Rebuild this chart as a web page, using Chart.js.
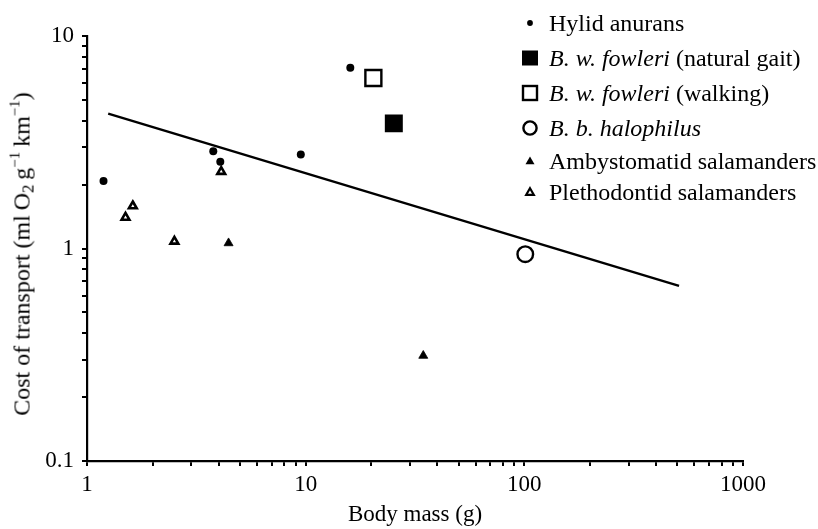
<!DOCTYPE html>
<html>
<head>
<meta charset="utf-8">
<script src="https://cdn.jsdelivr.net/npm/chart.js@4.4.1/dist/chart.umd.min.js"></script>
<style>
  html, body { margin: 0; padding: 0; background: #fff; }
  #wrap { position: relative; width: 818px; height: 529px; overflow: hidden; }
  #c { position: absolute; left: 0; top: 0; }
  .serif { font-family: "Liberation Serif", "Times New Roman", serif; color: #000; }
  #ytitle { position: absolute; left: 22px; top: 254px; font-size: 24px; white-space: nowrap;
            transform: translate(-50%, -50%) rotate(-90deg); }
  #ytitle sub { font-size: 17px; vertical-align: -4px; line-height: 0; }
  #ytitle sup { font-size: 15px; vertical-align: 10px; line-height: 0; }
  .lrow { position: absolute; left: 0; height: 0; }
  .lrow svg { position: absolute; left: 518px; top: -12px; }
  .lrow span { position: absolute; left: 549px; top: 0; transform: translateY(-52%); font-size: 24px; white-space: nowrap; line-height: 1; }
</style>
</head>
<body>
<div id="wrap">
  <canvas id="c" width="818" height="529"></canvas>
  <div id="ytitle" class="serif">Cost of transport (ml&#8201;O<sub>2</sub>&#8201;g<sup>&minus;1</sup>&#8201;km<sup>&minus;1</sup>)</div>
  <div id="legend" class="serif"></div>
</div>
<script>
// ---- data ----
const hylidMass = [1.19, 3.78, 4.07, 9.5, 16.0];
const hylidCost = [2.08, 2.87, 2.56, 2.77, 7.09];

const fowleriNaturalMass = [25.3];
const fowleriNaturalCost = [3.88];

const fowleriWalkingMass = [20.4];
const fowleriWalkingCost = [6.34];

const halophilusMass = [101];
const halophilusCost = [0.94];

const ambystomatidMass = [4.44, 34.5];
const ambystomatidCost = [1.06, 0.313];

const plethodontidMass = [1.50, 1.62, 2.51, 4.11];
const plethodontidCost = [1.40, 1.585, 1.08, 2.30];

const fitMass = [1.25, 510];
const fitCost = [4.31, 0.667];

const xTickValues = [1,2,3,4,5,6,7,8,9,10,20,30,40,50,60,70,80,90,100,200,300,400,500,600,700,800,900,1000];
const xTickLabels = ['1', '10', '100', '1000'];
const yTickValues = [0.1,0.2,0.3,0.4,0.5,0.6,0.7,0.8,0.9,1,2,3,4,5,6,7,8,9,10];
const yTickLabels = ['0.1', '1', '10'];

const legendLabels = [
  'Hylid anurans',
  '<i>B. w. fowleri</i> (natural gait)',
  '<i>B. w. fowleri</i> (walking)',
  '<i>B. b. halophilus</i>',
  'Ambystomatid salamanders',
  'Plethodontid salamanders'
];

// ---- build ----
const pts = (xs, ys) => xs.map((x, i) => ({ x: x, y: ys[i] }));
const FONT = { family: '"Liberation Serif", "Times New Roman", serif', size: 23 };

const datasets = [
  { label: legendLabels[0], data: pts(hylidMass, hylidCost), pointStyle: 'circle', pointRadius: 4,
    backgroundColor: '#000', borderColor: '#000', borderWidth: 0 },
  { label: legendLabels[1], data: pts(fowleriNaturalMass, fowleriNaturalCost), pointStyle: 'rect', pointRadius: 11.3,
    backgroundColor: '#000', borderColor: '#000', borderWidth: 2 },
  { label: legendLabels[2], data: pts(fowleriWalkingMass, fowleriWalkingCost), pointStyle: 'rect', pointRadius: 11.3,
    backgroundColor: '#fff', borderColor: '#000', borderWidth: 2.4 },
  { label: legendLabels[3], data: pts(halophilusMass, halophilusCost), pointStyle: 'circle', pointRadius: 7.8,
    backgroundColor: '#fff', borderColor: '#000', borderWidth: 2.4 },
  { label: legendLabels[4], data: pts(ambystomatidMass, ambystomatidCost), pointStyle: 'triangle', pointRadius: 5.2,
    backgroundColor: '#000', borderColor: '#000', borderWidth: 0.8 },
  { label: legendLabels[5], data: pts(plethodontidMass, plethodontidCost), pointStyle: 'triangle', pointRadius: 4.5,
    backgroundColor: '#fff', borderColor: '#000', borderWidth: 2.6 },
  { label: 'fit', data: pts(fitMass, fitCost), showLine: true, pointRadius: 0,
    borderColor: '#000', borderWidth: 2.4, fill: false }
];
// draw the fit line beneath the markers
datasets.forEach((d, i) => { d.order = (d.label === 'fit') ? 10 : i; });

const axisCommon = {
  type: 'logarithmic',
  grid: { drawOnChartArea: false, drawTicks: true, tickLength: 5, color: '#000', lineWidth: 2 },
  border: { display: true, color: '#000', width: 2.2 },
};

new Chart(document.getElementById('c'), {
  type: 'scatter',
  data: { datasets: datasets },
  options: {
    responsive: false,
    animation: false,
    layout: { padding: { left: 0, right: 75, top: 36, bottom: 0 } },
    plugins: { legend: { display: false }, tooltip: { enabled: false } },
    scales: {
      x: Object.assign({}, axisCommon, {
        position: 'bottom', min: 1, max: 1000,
        afterBuildTicks: s => { s.ticks = xTickValues.map(v => ({ value: v })); },
        afterFit: s => { s.height = 68; },
        ticks: { autoSkip: false, maxRotation: 0, padding: 5, color: '#000', font: FONT,
          callback: v => { const t = String(v); return xTickLabels.includes(t) ? t : ''; } },
        title: { display: true, text: 'Body mass (g)', color: '#000', font: FONT, padding: { top: 0, bottom: 0 } }
      }),
      y: Object.assign({}, axisCommon, {
        position: 'left', min: 0.1, max: 10,
        afterBuildTicks: s => { s.ticks = yTickValues.map(v => ({ value: v })); },
        afterFit: s => { s.width = 87; },
        ticks: { autoSkip: false, padding: 8, color: '#000', font: FONT,
          callback: v => { const t = String(v); return yTickLabels.includes(t) ? t : ''; } },
        title: { display: false }
      })
    }
  }
});

// ---- legend (HTML, real text) ----
const legendY = [23, 58, 93, 128, 161, 192];
const markers = [
  '<circle cx="12" cy="12" r="2.9" fill="#000"/>',
  '<rect x="4" y="4.5" width="16" height="15" fill="#000"/>',
  '<rect x="5" y="5" width="14" height="14" fill="#fff" stroke="#000" stroke-width="2.4"/>',
  '<circle cx="12" cy="12" r="6.6" fill="#fff" stroke="#000" stroke-width="2.4"/>',
  '<polygon points="12,7.6 16.5,15.2 7.5,15.2" fill="#000"/>',
  '<polygon points="12,8.3 15.8,14.8 8.2,14.8" fill="#fff" stroke="#000" stroke-width="2.2"/>'
];
const leg = document.getElementById('legend');
legendLabels.forEach((lab, i) => {
  const row = document.createElement('div');
  row.className = 'lrow';
  row.style.top = legendY[i] + 'px';
  row.innerHTML = '<svg width="24" height="24" viewBox="0 0 24 24">' + markers[i] + '</svg><span>' + lab + '</span>';
  leg.appendChild(row);
});
</script>
</body>
</html>
